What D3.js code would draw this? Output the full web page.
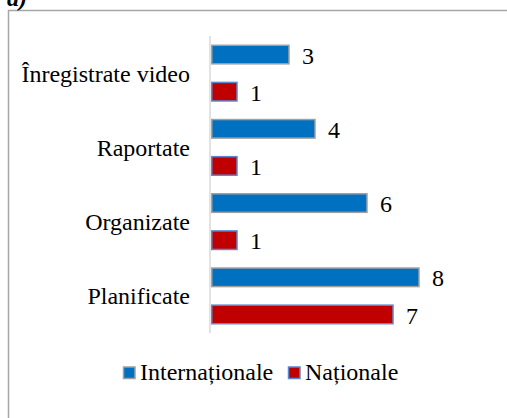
<!DOCTYPE html>
<html>
<head>
<meta charset="utf-8">
<script src="https://cdn.jsdelivr.net/npm/d3@7"></script>
</head>
<body style="margin:0;background:#fff">
<svg id="chart" width="507" height="418" style="display:block"></svg>
<script>
const categories = ["\u00CEnregistrate video", "Raportate", "Organizate", "Planificate"];
const seriesNames = ["Interna\u021Bionale", "Na\u021Bionale"];
const internationale = [3, 4, 6, 8];
const nationale = [1, 1, 1, 7];
const panelLabel = "a)";

const colors = { [seriesNames[0]]: "#0070C0", [seriesNames[1]]: "#C00000" };
const strokes = { [seriesNames[0]]: "#A0A0A0", [seriesNames[1]]: "#5B88D0" };
const seriesValues = { [seriesNames[0]]: internationale, [seriesNames[1]]: nationale };

const svg = d3.select("#chart");

function serif(sel, size) {
  return sel.style("font-family", "'Liberation Serif', 'Times New Roman', serif", "important")
            .style("font-size", size + "px");
}

// Outer frame (extends beyond the viewport)
svg.append("rect")
  .attr("x", 8.5).attr("y", 10.5)
  .attr("width", 700).attr("height", 600)
  .attr("fill", "none").attr("stroke", "#A6A6A6").attr("stroke-width", 1.5);

serif(svg.append("text"), 24)
  .attr("x", 7).attr("y", 6)
  .style("font-style", "italic").style("font-weight", "bold")
  .text(panelLabel);

const x = d3.scaleLinear().domain([0, 9]).range([211, 445]);
const y = d3.scaleBand().domain(categories).range([36, 333]).padding(0);
const yInner = d3.scaleBand().domain(seriesNames).range([0, y.bandwidth()])
  .paddingInner(0.5).paddingOuter(0.25);

// Vertical axis line
svg.append("line")
  .attr("x1", 210).attr("x2", 210)
  .attr("y1", y.range()[0]).attr("y2", y.range()[1])
  .attr("stroke", "#D9D9D9").attr("stroke-width", 1.5);

const data = [];
categories.forEach((c, i) => {
  seriesNames.forEach(s => data.push({ cat: c, series: s, value: seriesValues[s][i] }));
});

const g = svg.append("g");
g.selectAll("rect.bar").data(data).join("rect")
  .attr("class", "bar")
  .attr("x", x(0) + 0.75)
  .attr("y", d => y(d.cat) + yInner(d.series))
  .attr("width", d => x(d.value) - x(0) - 0.75)
  .attr("height", yInner.bandwidth())
  .attr("fill", d => colors[d.series])
  .attr("stroke", d => strokes[d.series])
  .attr("stroke-width", 1.5);

serif(g.selectAll("text.val").data(data).join("text"), 24)
  .attr("class", "val")
  .attr("x", d => x(d.value) + 13)
  .attr("y", d => y(d.cat) + yInner(d.series) + yInner.bandwidth() / 2)
  .attr("dy", "0.38em")
  .text(d => d.value);

// Category labels
serif(svg.selectAll("text.cat").data(categories).join("text"), 24)
  .attr("class", "cat")
  .attr("x", 190)
  .attr("y", d => y(d) + y.bandwidth() / 2)
  .attr("dy", "0.35em")
  .attr("text-anchor", "end")
  .text(d => d);

// Legend
const legendItems = [
  { name: seriesNames[0], mx: 123.5, tx: 140 },
  { name: seriesNames[1], mx: 288.5, tx: 305 }
];
const lg = svg.append("g");
legendItems.forEach(it => {
  lg.append("rect")
    .attr("x", it.mx).attr("y", 367)
    .attr("width", 11.5).attr("height", 11.5)
    .attr("fill", colors[it.name])
    .attr("stroke", strokes[it.name]).attr("stroke-width", 1.5);
  serif(lg.append("text"), 24)
    .attr("x", it.tx).attr("y", 380)
    .text(it.name);
});
</script>
</body>
</html>
